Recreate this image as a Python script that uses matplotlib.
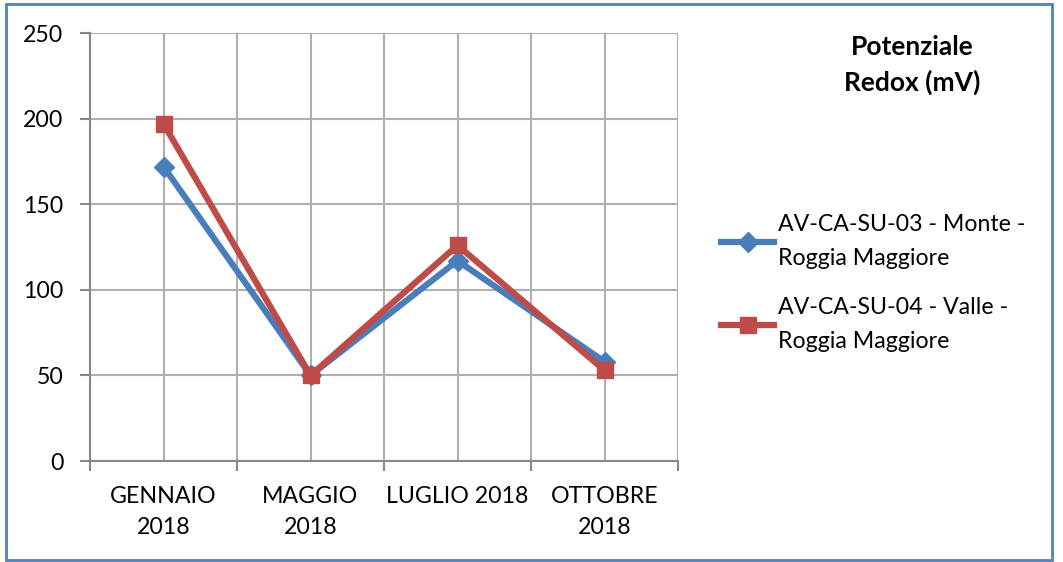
import matplotlib
matplotlib.use("Agg")
import matplotlib.pyplot as plt
from matplotlib.patches import Rectangle
import numpy as np

categories = ["GENNAIO\n2018", "MAGGIO\n2018", "LUGLIO 2018", "OTTOBRE\n2018"]
monte = [172, 50, 117, 58]
valle = [197, 50, 126, 53]
series_names = ["AV-CA-SU-03 - Monte -\nRoggia Maggiore", "AV-CA-SU-04 - Valle -\nRoggia Maggiore"]
title = "Potenziale\nRedox (mV)"
yticks = [0, 50, 100, 150, 200, 250]

plt.rcParams['font.family'] = ['Lato', 'DejaVu Sans']

fig = plt.figure(figsize=(10.63, 5.62), dpi=100)
ax = fig.add_axes([90/1063, 1-461/562, (678-90)/1063, (461-33)/562])

x = np.arange(len(categories))
blue = "#4a7ebb"
red = "#be4b48"
ax.plot(x, monte, color=blue, lw=4.5, marker="D", ms=10, zorder=3, label=series_names[0])
ax.plot(x, valle, color=red, lw=4.5, marker="s", ms=12, zorder=4, label=series_names[1])

ax.set_xlim(-0.5, len(categories)-0.5)
ax.set_ylim(0, 250)
ax.set_yticks(yticks)
ax.set_xticks(np.arange(-0.5, len(categories), 1.0))
ax.set_xticklabels([])
ax.set_xticks(x, minor=True)
ax.set_xticklabels(categories, minor=True, fontsize=16.7, linespacing=1.6)
ax.tick_params(axis="x", which="minor", length=0, pad=18)
ax.tick_params(axis="x", which="major", length=7, color="#888888", width=1.5)
ax.tick_params(axis="y", length=7, color="#888888", width=1.5, labelsize=16.7, pad=12)

ax.grid(True, which="both", color="#b0b0b0", lw=1.5)
ax.set_axisbelow(True)
for s in ["top", "right"]:
    ax.spines[s].set_visible(False)
for s in ["left", "bottom"]:
    ax.spines[s].set_color("#888888")
    ax.spines[s].set_linewidth(1.5)

fig.text(912/1063, 1-65/562, title, ha="center", va="center", fontsize=19,
         fontweight="bold", linespacing=1.5)

leg = fig.legend(loc="upper left", bbox_to_anchor=(700/1063, 1-193/562), frameon=False,
                 fontsize=16.7, handlelength=2.3, labelspacing=1.23, handletextpad=0.15)
for t in leg.get_texts():
    t.set_linespacing(1.75)

fig.add_artist(Rectangle((6/1063, 1-560/562), (1052-6)/1063, (560-4)/562,
                         transform=fig.transFigure, fill=False, edgecolor="#4f81bd", lw=2))

fig.savefig("out.png", dpi=100)
